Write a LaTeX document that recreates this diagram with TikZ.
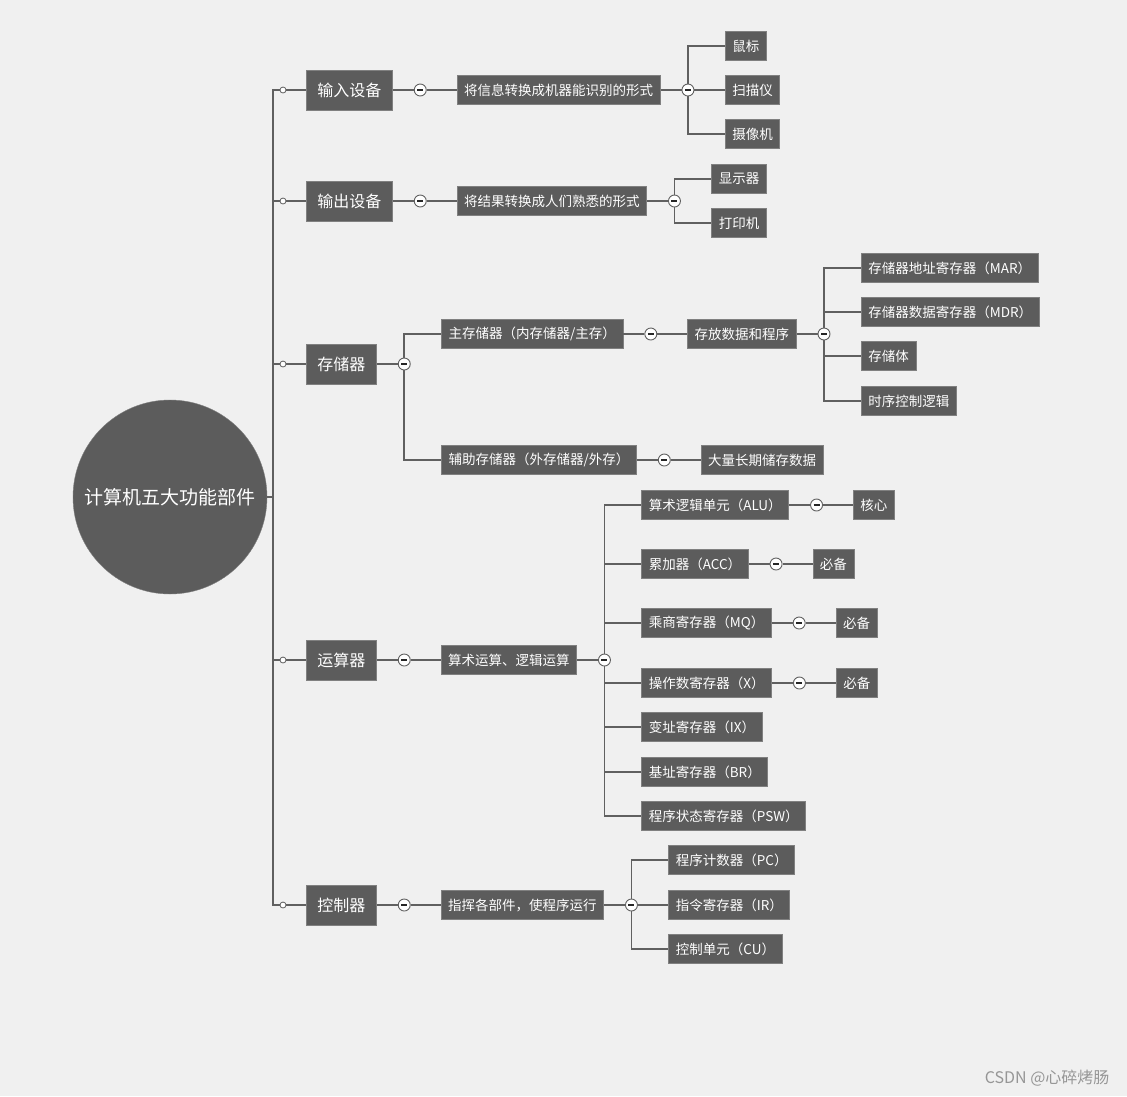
\documentclass[tikz,border=0pt]{standalone}
\usepackage{fontspec}
\setmainfont{Noto Sans CJK SC}
\usetikzlibrary{positioning, calc}
\definecolor{mapgray}{RGB}{92, 92, 92}
\definecolor{edgegray}{RGB}{128, 128, 128}
\definecolor{linegray}{RGB}{96, 96, 96}
\definecolor{bggray}{RGB}{240, 240, 240}
\definecolor{marktext}{RGB}{150, 150, 150}

\tikzset{
  topic/.style={fill=mapgray, draw=edgegray, line width=0.8pt, text=white, anchor=west,
                inner xsep=11pt, minimum height=40pt, font=\fontsize{16}{18}\selectfont},
  subtopic/.style={fill=mapgray, draw=edgegray, line width=0.8pt, text=white, anchor=west,
                   inner xsep=7pt, minimum height=29pt, font=\fontsize{13.5}{16}\selectfont},
  fold/.style={circle, draw=linegray, fill=white, line width=0.9pt, minimum size=12pt, inner sep=0pt,
               path picture={\draw[line width=1.6pt, black!85]
                 ([xshift=-3pt]path picture bounding box.center) -- ([xshift=3pt]path picture bounding box.center);}},
  knob/.style={circle, draw=linegray, fill=white, line width=0.8pt, minimum size=6pt, inner sep=0pt},
  link/.style={draw=linegray, line width=1.8pt},
}

\begin{document}
\begin{tikzpicture}[x=1pt, y=-1pt]
    \fill[bggray] (0,0) rectangle (1127,1096);

    \node[circle, fill=mapgray, draw=edgegray, minimum size=194pt, inner sep=0pt, text=white,
          font=\fontsize{19}{22}\selectfont] (root) at (170,497) {计算机五大功能部件};
    \coordinate (trunk) at (273,497);

    \node[knob] (k-input) at (283,90) {};
    \node[knob] (k-output) at (283,201) {};
    \node[knob] (k-memory) at (283,364) {};
    \node[knob] (k-calc) at (283,660) {};
    \node[knob] (k-ctrl) at (283,905) {};

    \node[topic] (input) at (306,90) {输入设备};
    \node[topic] (output) at (306,201) {输出设备};
    \node[topic] (memory) at (306,364) {存储器};
    \node[topic] (calc) at (306,660) {运算器};
    \node[topic] (ctrl) at (306,905) {控制器};

    \node[fold, right=21pt of input] (f-input) {};
    \node[fold, right=21pt of output] (f-output) {};
    \node[fold, right=21pt of memory] (f-memory) {};
    \node[fold, right=21pt of calc] (f-calc) {};
    \node[fold, right=21pt of ctrl] (f-ctrl) {};

    % input devices
    \node[subtopic, right=30pt of f-input] (in-desc) {将信息转换成机器能识别的形式};
    \node[fold, right=21pt of in-desc] (f-in-desc) {};
    \node[subtopic] (mouse) at ($(f-in-desc)+(37,-44)$) {鼠标};
    \node[subtopic] (scanner) at ($(f-in-desc)+(37,0)$) {扫描仪};
    \node[subtopic] (camera) at ($(f-in-desc)+(37,44)$) {摄像机};

    % output devices
    \node[subtopic, right=30pt of f-output] (out-desc) {将结果转换成人们熟悉的形式};
    \node[fold, right=21pt of out-desc] (f-out-desc) {};
    \node[subtopic] (display) at ($(f-out-desc)+(37,-22)$) {显示器};
    \node[subtopic] (printer) at ($(f-out-desc)+(37,22)$) {打印机};

    % memory
    \node[subtopic] (main-mem) at ($(f-memory)+(37,-30)$) {主存储器（内存储器/主存）};
    \node[subtopic] (aux-mem) at ($(f-memory)+(37,96)$) {辅助存储器（外存储器/外存）};
    \node[fold, right=21pt of main-mem] (f-main-mem) {};
    \node[subtopic, right=30pt of f-main-mem] (store) {存放数据和程序};
    \node[fold, right=21pt of store] (f-store) {};
    \node[subtopic] (mar) at ($(f-store)+(37,-66)$) {存储器地址寄存器（MAR）};
    \node[subtopic] (mdr) at ($(f-store)+(37,-22)$) {存储器数据寄存器（MDR）};
    \node[subtopic] (bank) at ($(f-store)+(37,22)$) {存储体};
    \node[subtopic] (timing) at ($(f-store)+(37,67)$) {时序控制逻辑};
    \node[fold, right=21pt of aux-mem] (f-aux-mem) {};
    \node[subtopic, right=30pt of f-aux-mem] (bulk) {大量长期储存数据};

    % arithmetic unit
    \node[subtopic, right=30pt of f-calc] (calc-desc) {算术运算、逻辑运算};
    \node[fold, right=21pt of calc-desc] (f-calc-desc) {};
    \node[subtopic] (alu) at ($(f-calc-desc)+(37,-155)$) {算术逻辑单元（ALU）};
    \node[subtopic] (acc) at ($(f-calc-desc)+(37,-96)$) {累加器（ACC）};
    \node[subtopic] (mq) at ($(f-calc-desc)+(37,-37)$) {乘商寄存器（MQ）};
    \node[subtopic] (xreg) at ($(f-calc-desc)+(37,23)$) {操作数寄存器（X）};
    \node[subtopic] (ix) at ($(f-calc-desc)+(37,67)$) {变址寄存器（IX）};
    \node[subtopic] (br) at ($(f-calc-desc)+(37,112)$) {基址寄存器（BR）};
    \node[subtopic] (psw) at ($(f-calc-desc)+(37,156)$) {程序状态寄存器（PSW）};
    \node[fold, right=21pt of alu] (f-alu) {};
    \node[subtopic, right=30pt of f-alu] (core) {核心};
    \node[fold, right=21pt of acc] (f-acc) {};
    \node[subtopic, right=30pt of f-acc] (need-acc) {必备};
    \node[fold, right=21pt of mq] (f-mq) {};
    \node[subtopic, right=30pt of f-mq] (need-mq) {必备};
    \node[fold, right=21pt of xreg] (f-xreg) {};
    \node[subtopic, right=30pt of f-xreg] (need-x) {必备};

    % control unit
    \node[subtopic, right=30pt of f-ctrl] (ctrl-desc) {指挥各部件，使程序运行};
    \node[fold, right=21pt of ctrl-desc] (f-ctrl-desc) {};
    \node[subtopic] (pc) at ($(f-ctrl-desc)+(37,-45)$) {程序计数器（PC）};
    \node[subtopic] (ir) at ($(f-ctrl-desc)+(37,0)$) {指令寄存器（IR）};
    \node[subtopic] (cu) at ($(f-ctrl-desc)+(37,44)$) {控制单元（CU）};

    \node[text=marktext, anchor=east, font=\fontsize{16}{18}\selectfont] (mark) at (1113,1078) {CSDN @心碎烤肠};

    % connectors
    \draw[link] (root) -- (trunk);
    \foreach \t in {input, output, memory, calc, ctrl} {
        \draw[link] (trunk) |- (k-\t);
        \draw[link] (k-\t) -- (\t);
        \draw[link] (\t) -- (f-\t);
    }
    \draw[link] (f-input) -- (in-desc);
    \draw[link] (in-desc) -- (f-in-desc);
    \draw[link] (f-in-desc) |- (mouse.west);
    \draw[link] (f-in-desc) -- (scanner);
    \draw[link] (f-in-desc) |- (camera.west);

    \draw[link] (f-output) -- (out-desc);
    \draw[link] (out-desc) -- (f-out-desc);
    \draw[link] (f-out-desc) |- (display.west);
    \draw[link] (f-out-desc) |- (printer.west);

    \draw[link] (f-memory) |- (main-mem.west);
    \draw[link] (f-memory) |- (aux-mem.west);
    \draw[link] (main-mem) -- (f-main-mem) -- (store) -- (f-store);
    \foreach \c in {mar, mdr, bank, timing}
        \draw[link] (f-store) |- (\c.west);
    \draw[link] (aux-mem) -- (f-aux-mem) -- (bulk);

    \draw[link] (f-calc) -- (calc-desc) -- (f-calc-desc);
    \foreach \c in {alu, acc, mq, xreg, ix, br, psw}
        \draw[link] (f-calc-desc) |- (\c.west);
    \draw[link] (alu) -- (f-alu) -- (core);
    \draw[link] (acc) -- (f-acc) -- (need-acc);
    \draw[link] (mq) -- (f-mq) -- (need-mq);
    \draw[link] (xreg) -- (f-xreg) -- (need-x);

    \draw[link] (f-ctrl) -- (ctrl-desc) -- (f-ctrl-desc);
    \draw[link] (f-ctrl-desc) |- (pc.west);
    \draw[link] (f-ctrl-desc) -- (ir);
    \draw[link] (f-ctrl-desc) |- (cu.west);
\end{tikzpicture}
\end{document}
